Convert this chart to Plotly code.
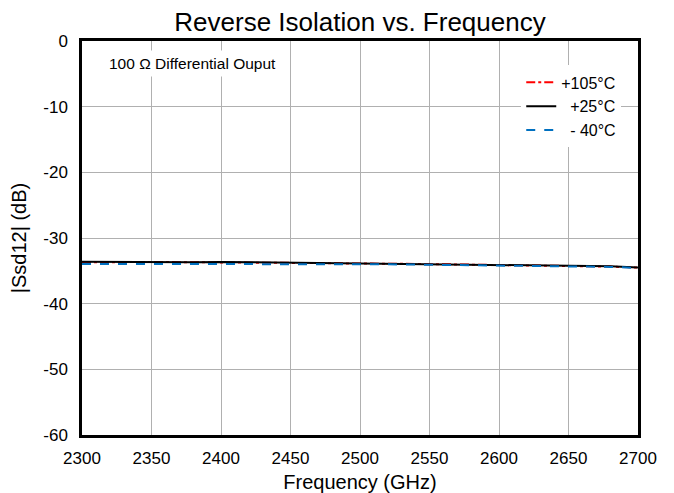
import plotly.graph_objects as go

freq = [2300, 2320, 2340, 2360, 2380, 2400, 2420, 2440, 2460, 2480, 2500,
        2520, 2540, 2560, 2580, 2600, 2620, 2640, 2660, 2680, 2700]
s_105 = [-33.7, -33.65, -33.7, -33.65, -33.7, -33.7, -33.75, -33.75, -33.8, -33.85, -33.85,
         -33.9, -33.95, -34.0, -34.05, -34.1, -34.2, -34.25, -34.3, -34.35, -34.5]
s_25 = [-33.6, -33.65, -33.7, -33.65, -33.7, -33.65, -33.7, -33.7, -33.75, -33.8, -33.8,
        -33.85, -33.9, -33.95, -34.0, -34.05, -34.1, -34.2, -34.25, -34.3, -34.5]
s_m40 = [-33.95, -33.95, -33.9, -33.9, -33.9, -33.9, -33.9, -33.95, -33.95, -33.95, -34.0,
         -34.0, -34.05, -34.1, -34.1, -34.15, -34.25, -34.3, -34.35, -34.4, -34.55]
x_ticks = [2300, 2350, 2400, 2450, 2500, 2550, 2600, 2650, 2700]
y_ticks = [0, -10, -20, -30, -40, -50, -60]
y_tick_text = ["0", "-10", "-20", "-30", "-40", "-50", "-60"]

FONT = "Arial, Liberation Sans"
fig = go.Figure()
fig.add_trace(go.Scatter(x=freq, y=s_105, mode="lines", name="+105°C",
                         line=dict(color="#FF0000", width=2, dash="dashdot")))
fig.add_trace(go.Scatter(x=freq, y=s_25, mode="lines", name="  +25°C",
                         line=dict(color="#000000", width=2)))
fig.add_trace(go.Scatter(x=freq, y=s_m40, mode="lines", name="  - 40°C",
                         line=dict(color="#0070C0", width=2, dash="dash")))

axis_font = dict(family=FONT, size=17, color="#000")
fig.update_layout(
    width=666, height=485,
    margin=dict(l=74, r=36, t=33, b=58, autoexpand=False),
    paper_bgcolor="white", plot_bgcolor="white",
    font=dict(family=FONT, color="#000"),
    title=dict(text="Reverse Isolation vs. Frequency", xref="paper", x=0.5, xanchor="center",
               yref="container", y=0.99, yanchor="top",
               font=dict(family=FONT, size=26, color="#000")),
    xaxis=dict(range=[2300, 2700], tickvals=x_ticks, tickfont=axis_font,
               title=dict(text="Frequency (GHz)", font=dict(size=20)),
               showgrid=True, gridcolor="#B0B0B0", gridwidth=1,
               showline=True, linecolor="#000", linewidth=2.5, mirror=True,
               ticks="", ticklabelstandoff=6, zeroline=False, automargin=False),
    yaxis=dict(range=[-60, 0], tickvals=y_ticks, ticktext=y_tick_text, tickfont=axis_font,
               title=dict(text="|Ssd12| (dB)", font=dict(size=20)),
               showgrid=True, gridcolor="#B0B0B0", gridwidth=1,
               showline=True, linecolor="#000", linewidth=2.5, mirror=True,
               ticks="", ticklabelstandoff=8, zeroline=False, automargin=False),
    legend=dict(x=0.79, y=0.938, xanchor="left", yanchor="top",
                bgcolor="white", borderwidth=0,
                font=dict(family=FONT, size=16, color="#000"),
                itemwidth=30),
    showlegend=True,
)
fig.add_annotation(text="100 Ω Differential Ouput", xref="paper", yref="paper",
                   x=0.04, y=0.943, xanchor="left", yanchor="middle", showarrow=False,
                   bgcolor="white", borderpad=4,
                   font=dict(family=FONT, size=15.5, color="#000"))
fig.write_html("out.html")
